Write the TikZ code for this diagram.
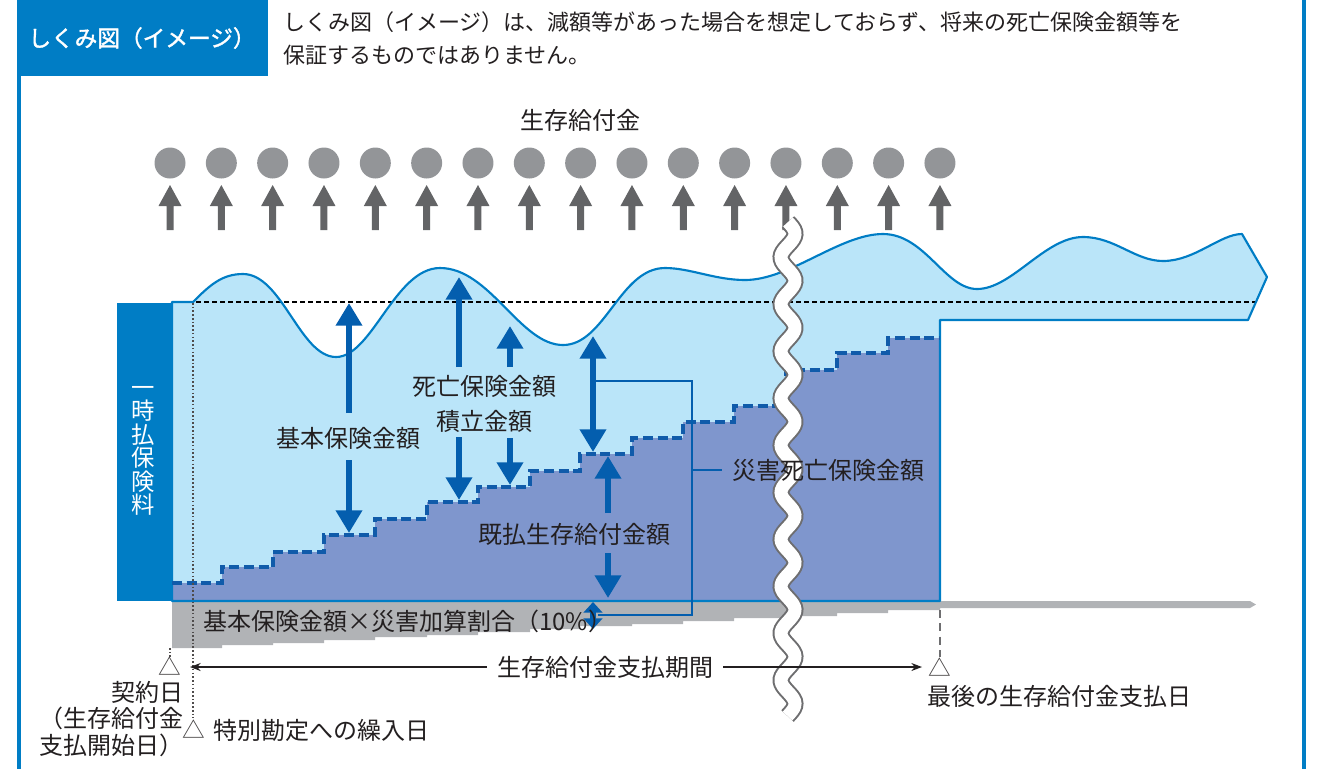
\documentclass[tikz,border=0pt]{standalone}
\usepackage{fontspec}
\setmainfont{Noto Sans CJK JP}
\newfontfamily\jpbold[FakeBold=1.6]{Noto Sans CJK JP}
\usetikzlibrary{arrows.meta}
\definecolor{frameblue}{RGB}{0,125,197}
\definecolor{lightblue}{RGB}{186,229,249}
\definecolor{darkfill}{RGB}{127,150,205}
\definecolor{stepblue}{RGB}{16,91,170}
\definecolor{arrowblue}{RGB}{4,94,174}
\definecolor{circgray}{RGB}{147,149,152}
\definecolor{arrgray}{RGB}{99,100,102}
\definecolor{bandgray}{RGB}{177,179,182}
\definecolor{txt}{RGB}{35,31,32}
\definecolor{wavegray}{RGB}{110,110,112}
\begin{document}
\begin{tikzpicture}[x=0.75pt,y=-0.75pt,
  lbl/.style={font=\fontsize{18}{26.25}\selectfont, text=txt, inner sep=0pt},
  hdr/.style={font=\fontsize{16.5}{20}\selectfont, text=txt, inner sep=0pt, anchor=west},
  barrow/.style={draw=arrowblue, line width=4.5pt, -{Triangle[width=19pt,length=17pt]}},
  bdarrow/.style={draw=arrowblue, line width=4.5pt, {Triangle[width=19pt,length=17pt]}-{Triangle[width=19pt,length=17pt]}},
  sdarrow/.style={draw=arrowblue, line width=3.8pt, {Triangle[width=14pt,length=8pt]}-{Triangle[width=14pt,length=8pt]}},
  thinarrow/.style={draw=txt, line width=0.9pt, -{Stealth[length=8pt,width=6pt]}},
  bracket/.style={draw=arrowblue, line width=1.5pt},
  tri/.style={font=\fontsize{17}{20}\selectfont, text=txt!85, inner sep=0pt}
]
\useasboundingbox (0,0) rectangle (1341,769);
% frame
\draw[frameblue, line width=3pt] (19,0) -- (19,769);
\draw[frameblue, line width=3pt] (1304,0) -- (1304,769);
\fill[frameblue] (17,0) rectangle (268,76);
\node[text=white, inner sep=0pt, font=\jpbold\fontsize{17}{20}\selectfont] (title) at (142,38) {しくみ図（イメージ）};
\node[hdr] (note1) at (283,22) {しくみ図（イメージ）は、減額等があった場合を想定しておらず、将来の死亡保険金額等を};
\node[hdr] (note2) at (283,55) {保証するものではありません。};
% survival benefits
\node[lbl] (seizon) at (580,120) {生存給付金};
\foreach \i in {0,...,15}{
  \pgfmathsetmacro\cx{170+51.33*\i}
  \fill[circgray] (\cx,163) circle[radius=15.5];
  \fill[arrgray] (\cx-3.5,230) -- (\cx-3.5,206) -- (\cx-11.5,206) -- (\cx,185) -- (\cx+11.5,206) -- (\cx+3.5,206) -- (\cx+3.5,230) -- cycle;
}
% gray band
\fill[bandgray] (172,601) -- (1250,601) -- (1256,604.5) -- (1250,608) -- (940,608) -- (940,610) -- (888,610) -- (888,613) -- (837,613) -- (837,616) -- (786,616) -- (786,618) -- (734,618) -- (734,621) -- (683,621) -- (683,624) -- (632,624) -- (632,626) -- (580,626) -- (580,629) -- (530,629) -- (530,632) -- (478,632) -- (478,635) -- (427,635) -- (427,637) -- (375,637) -- (375,640) -- (324,640) -- (324,643) -- (273,643) -- (273,645) -- (222,645) -- (222,648) -- (172,648) -- cycle;
% premium bar
\fill[frameblue] (117,303) rectangle (172,601);
\node[text=white, inner sep=0pt, align=center, font=\fontsize{17.5}{17.6}\selectfont] (premium) at (143,451) {一\\時\\払\\保\\険\\料};
% wave region
\def\wavep{(172,601) -- (172,302) -- (193,302)
 .. controls (210,285) and (222,274) .. (243,274)
 .. controls (282,274) and (300,357) .. (336,357)
 .. controls (372,357) and (395,268) .. (440,268)
 .. controls (490,268) and (520,345) .. (563,345)
 .. controls (605,345) and (620,268) .. (665,268)
 .. controls (690,268) and (715,280) .. (745,280)
 .. controls (790,280) and (840,234) .. (883,234)
 .. controls (925,234) and (945,289) .. (977,289)
 .. controls (1012,289) and (1045,237) .. (1083,237)
 .. controls (1115,237) and (1135,261) .. (1163,261)
 .. controls (1195,261) and (1220,234) .. (1242,234)
 -- (1267,277) -- (1248,320) -- (940,320) -- (940,601) -- cycle}
\fill[lightblue] \wavep;
\def\stepp{(172,583) -- (222,583) -- (222,567) -- (273,567) -- (273,552) -- (324,552) -- (324,535) -- (375,535) -- (375,519) -- (427,519) -- (427,502) -- (478,502) -- (478,487) -- (530,487) -- (530,471) -- (580,471) -- (580,454) -- (632,454) -- (632,438) -- (683,438) -- (683,422) -- (734,422) -- (734,406) -- (786,406) -- (786,370) -- (837,370) -- (837,353) -- (888,353) -- (888,338) -- (940,338)}
\fill[darkfill] (172,601) -- \stepp -- (940,601) -- cycle;
\draw[black, line width=0.9pt, dash pattern=on 3.5pt off 2.5pt] (172,302) -- (1256,302);
\draw[frameblue, line width=1.6pt, line join=round] \wavep;
\draw[stepblue, line width=2.3pt, dash pattern=on 7.5pt off 3.5pt] \stepp;
% blue arrows
\draw[barrow] (349,413) -- (349,303);
\draw[barrow] (349,460) -- (349,533);
\draw[barrow] (459,367) -- (459,277);
\draw[barrow] (459,437) -- (459,500);
\draw[barrow] (510,367) -- (510,326);
\draw[barrow] (510,438) -- (510,485);
\draw[bdarrow] (593,336) -- (593,452);
\draw[barrow] (608,513) -- (608,456);
\draw[barrow] (608,553) -- (608,598);
\draw[sdarrow] (593,602) -- (593,629);
\draw[bracket] (593,381) -- (692,381) -- (692,615) -- (598,615);
\draw[bracket] (692,470) -- (722,470);
% labels
\node[lbl] (kihon) at (348,438) {基本保険金額};
\node[lbl, align=center] (shibou) at (484,404) {死亡保険金額\\積立金額};
\node[lbl] (kibarai) at (574,534) {既払生存給付金額};
\node[lbl, anchor=west] (kasan) at (203,621) {基本保険金額×災害加算割合（10\%）};
% dotted lines
\draw[txt!80, line width=0.9pt, dash pattern=on 1.2pt off 1.6pt] (193,303) -- (193,718);
\draw[txt!80, line width=0.9pt, dash pattern=on 1.2pt off 1.6pt] (170,648) -- (170,657);
\draw[wavegray, line width=1.5pt, dash pattern=on 6pt off 4pt] (940,610) -- (940,657);
% break band
\draw[wavegray, line width=12.75pt] plot[domain=0:494, samples=200, variable=\t] ({788+7*sin(\t*7.6596)}, \t+222);
\draw[white, line width=9.75pt] plot[domain=0:494, samples=200, variable=\t] ({788+7*sin(\t*7.6596)}, \t+222);
\node[lbl] (saigai) at (828,470) {災害死亡保険金額};
% period arrow
\node[lbl] (period) at (605,667) {生存給付金支払期間};
\coordinate (pstart) at (190,667);
\coordinate (pend) at (922,667);
\draw[thinarrow] (period.west) ++(-10,0) -- (pstart);
\draw[thinarrow] (period.east) ++(10,0) -- (pend);
% triangles & date labels
\node[tri] (t1) at (170,666) {△};
\node[tri] (t2) at (194,729) {△};
\node[tri] (t3) at (940,667) {△};
\node[lbl, align=right, anchor=east, font=\fontsize{18}{20}\selectfont] (keiyaku) at (184,719) {契約日\\（生存給付金\\支払開始日）};
\node[lbl, anchor=west] (kurire) at (213,730) {特別勘定への繰入日};
\node[lbl, anchor=west] (saigo) at (927,696) {最後の生存給付金支払日};
\end{tikzpicture}
\end{document}
